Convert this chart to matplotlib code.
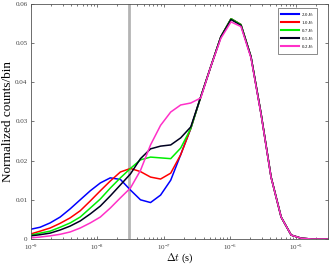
import matplotlib
matplotlib.use("Agg")
import matplotlib.pyplot as plt
from matplotlib.ticker import LogLocator, NullFormatter

plt.rcParams["font.family"] = ["Liberation Serif", "DejaVu Serif"]
plt.rcParams["mathtext.fontset"] = "cm"

# histogram bin centres (s)
dt = [1.0e-9, 1.37e-9, 1.94e-9, 2.75e-9, 3.9e-9, 5.52e-9, 7.83e-9, 1.11e-8,
      1.57e-8, 2.23e-8, 3.16e-8, 4.48e-8, 6.35e-8, 9.0e-8, 1.28e-7, 1.81e-7,
      2.57e-7, 3.64e-7, 5.15e-7, 7.31e-7, 1.04e-6, 1.47e-6, 2.08e-6, 2.95e-6,
      4.18e-6, 5.93e-6, 8.4e-6, 1.19e-5, 1.69e-5, 3.05e-5]

tail = [0.0282, 0.0363, 0.0440, 0.0516, 0.0562, 0.0547, 0.0465, 0.0320,
        0.0158, 0.0056, 0.0010, 0.0002, 0.0, 0.0]

e20 = [0.0025, 0.0030, 0.0041, 0.0056, 0.0077, 0.0100, 0.0123, 0.0143,
       0.0156, 0.0152, 0.0125, 0.0100, 0.0093, 0.0112, 0.0150, 0.0215] + tail
e10 = [0.0013, 0.0020, 0.0028, 0.0040, 0.0054, 0.0072, 0.0097, 0.0123,
       0.0148, 0.0171, 0.0180, 0.0172, 0.0158, 0.0153, 0.0168, 0.0215] + tail
e07 = [0.0010, 0.0015, 0.0020, 0.0030, 0.0041, 0.0056, 0.0079, 0.0102,
       0.0130, 0.0156, 0.0180, 0.0202, 0.0209, 0.0207, 0.0205, 0.0232] + tail
e05 = [0.0008, 0.0011, 0.0015, 0.0023, 0.0033, 0.0046, 0.0064, 0.0084,
       0.0110, 0.0138, 0.0166, 0.0205, 0.0230, 0.0237, 0.0240, 0.0258,
       0.0286, 0.0363, 0.0440, 0.0516, 0.0560, 0.0545, 0.0465, 0.0320,
       0.0158, 0.0056, 0.0010, 0.0002, 0.0, 0.0]
e02 = [0.0003, 0.0005, 0.0008, 0.0012, 0.0018, 0.0028, 0.0041, 0.0056,
       0.0079, 0.0105, 0.0130, 0.0175, 0.0240, 0.0290, 0.0324, 0.0342,
       0.0347, 0.0360, 0.0440, 0.0512, 0.0554, 0.0542, 0.0462, 0.0318,
       0.0157, 0.0056, 0.0010, 0.0002, 0.0, 0.0]

labels = [r"2.0$E_s$", r"1.0$E_s$", r"0.7$E_s$", r"0.5$E_s$", r"0.2$E_s$"]
colors = ["#0000ff", "#ff0000", "#00ee00", "#000020", "#ff30c8"]
cut = 3e-8

fig = plt.figure(figsize=(3.32, 2.66), dpi=100)
ax = fig.add_axes([0.0934, 0.1015, 0.894, 0.884])

ax.axvline(cut, color="#b4b4b4", lw=2)
for y, c, lab in zip([e20, e10, e07, e05, e02], colors, labels):
    ax.plot(dt, y, color=c, lw=1.1, label=lab)

ax.set_xscale("log")
ax.set_xlim(1e-9, 3e-5)
ax.set_ylim(0, 0.06)
ax.set_yticks([0, 0.01, 0.02, 0.03, 0.04, 0.05, 0.06])
ax.set_yticklabels(["0", "0.01", "0.02", "0.03", "0.04", "0.05", "0.06"])
ax.xaxis.set_major_locator(LogLocator(base=10, numticks=10))
ax.xaxis.set_minor_locator(LogLocator(base=10, subs=range(2, 10), numticks=20))
ax.xaxis.set_minor_formatter(NullFormatter())
ax.tick_params(which="both", direction="in", top=True, right=True,
               labelsize=5, colors="#404040", length=2.5, width=0.5, pad=2.5)
ax.tick_params(which="minor", length=1.5)
for s in ax.spines.values():
    s.set_color("#555555")
    s.set_linewidth(0.6)

ax.set_xlabel(r"$\Delta t$ (s)", fontsize=7.5, labelpad=0)
ax.set_ylabel("Normalized counts/bin", fontsize=9.5, labelpad=1)

leg = ax.legend(loc="upper right", bbox_to_anchor=(0.963, 0.983),
                fontsize=3.5, frameon=True, fancybox=False,
                handlelength=3.8, borderpad=0.6, labelspacing=0.05,
                handletextpad=0.3, borderaxespad=0)
leg.get_frame().set_edgecolor("#555555")
leg.get_frame().set_linewidth(0.6)
for h in leg.get_lines():
    h.set_linewidth(1.5)

fig.savefig("out.png", dpi=100)
